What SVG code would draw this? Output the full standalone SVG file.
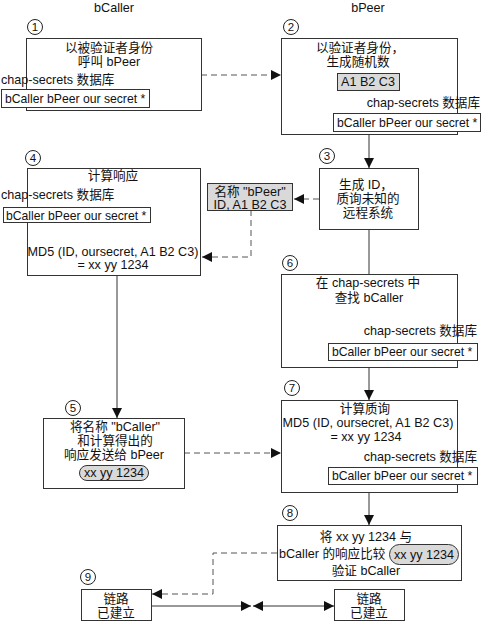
<svg xmlns="http://www.w3.org/2000/svg" width="483" height="621" viewBox="0 0 483 621">
<style>
text{font-family:"Liberation Sans","Noto Sans CJK SC",sans-serif;font-size:12.6px;fill:#111}
.c{text-anchor:middle}
.r{text-anchor:end}
.n{font-size:11.5px}
.s{font-size:12.2px}
.box{fill:#fff;stroke:#333;stroke-width:1}
.gray{fill:#d9d9d9;stroke:#333;stroke-width:1}
.num{fill:#fff;stroke:#222;stroke-width:1}
.ln{fill:none;stroke:#333;stroke-width:1}
.dash{fill:none;stroke:#555;stroke-width:1;stroke-dasharray:6,4}
</style>
<defs>
<marker id="ah" markerUnits="userSpaceOnUse" markerWidth="10" markerHeight="10" refX="8" refY="4" orient="auto-start-reverse" viewBox="0 0 8 8">
<path d="M0,0 L8,4 L0,8 z" fill="#111"/>
</marker>
</defs>
<text class="c" x="114" y="12">bCaller</text>
<text class="c" x="368" y="12">bPeer</text>

<g id="connectors">
<line class="dash" x1="201" y1="75" x2="281" y2="75" marker-end="url(#ah)"/>
<line class="ln" x1="369" y1="134" x2="369" y2="168" marker-end="url(#ah)"/>
<line class="dash" x1="319" y1="199" x2="294" y2="199" marker-end="url(#ah)"/>
<polyline class="dash" points="251,210 251,257 202,257" marker-end="url(#ah)"/>
<line class="dash" x1="117" y1="222" x2="117" y2="242" marker-end="url(#ah)"/>
<line class="ln" x1="117" y1="275" x2="117" y2="418" marker-end="url(#ah)"/>
<line class="dash" x1="184" y1="453" x2="281" y2="453" marker-end="url(#ah)"/>
<line class="ln" x1="369" y1="229" x2="369" y2="274"/>
<line class="ln" x1="369" y1="367" x2="369" y2="400" marker-end="url(#ah)"/>
<line class="ln" x1="369" y1="492" x2="369" y2="525" marker-end="url(#ah)"/>
<polyline class="dash" points="277,553 213,553 213,594 152,594" marker-end="url(#ah)"/>
<line class="ln" x1="151" y1="606" x2="251" y2="606" marker-end="url(#ah)"/>
<line class="ln" x1="253" y1="606" x2="334" y2="606" marker-start="url(#ah)" marker-end="url(#ah)"/>
</g>

<g id="node1">
<circle class="num" cx="35" cy="27" r="7.5"/><text class="c n" x="35" y="31">1</text>
<rect class="box" x="26.5" y="38.5" width="175" height="72"/>
<text class="c" x="109" y="52">以被验证者身份</text>
<text class="c" x="109" y="66">呼叫 bPeer</text>
<text x="1" y="84">chap-secrets 数据库</text>
<rect class="box" x="1.5" y="89.5" width="148" height="18"/>
<text class="s" x="5" y="103">bCaller bPeer our secret *</text>
</g>

<g id="node2">
<circle class="num" cx="291" cy="27" r="7.5"/><text class="c n" x="291" y="31">2</text>
<rect class="box" x="281.5" y="38.5" width="176" height="96"/>
<text class="c" x="360" y="52">以验证者身份，</text>
<text class="c" x="358" y="66">生成随机数</text>
<rect class="gray" x="337.5" y="73.5" width="62" height="17"/>
<text class="c" x="368" y="86">A1 B2 C3</text>
<text class="r" x="480" y="107">chap-secrets 数据库</text>
<rect class="box" x="333.5" y="113.5" width="147" height="18"/>
<text class="s" x="337" y="127">bCaller bPeer our secret *</text>
</g>

<g id="node3">
<circle class="num" cx="327" cy="156" r="7.5"/><text class="c n" x="327" y="160">3</text>
<rect class="box" x="319.5" y="168.5" width="99" height="61"/>
<text class="c" x="366" y="189">生成 ID，</text>
<text class="c" x="368" y="203">质询未知的</text>
<text class="c" x="368" y="217">远程系统</text>
</g>

<g id="challenge">
<rect class="gray" x="207.5" y="183.5" width="85" height="27"/>
<text class="c" x="250" y="196">名称 "bPeer"</text>
<text class="c" x="250" y="209">ID, A1 B2 C3</text>
</g>

<g id="node4">
<circle class="num" cx="33" cy="158" r="7.5"/><text class="c n" x="33" y="162">4</text>
<rect class="box" x="27.5" y="168.5" width="173" height="107"/>
<text class="c" x="113" y="180">计算响应</text>
<text x="1" y="199">chap-secrets 数据库</text>
<rect class="box" x="3.5" y="207.5" width="147" height="15"/>
<text class="s" x="6" y="220">bCaller bPeer our secret *</text>
<text class="c" x="113" y="256">MD5 (ID, oursecret, A1 B2 C3)</text>
<text class="c" x="113" y="269">= xx yy 1234</text>
</g>

<g id="node5">
<circle class="num" cx="73" cy="408" r="7.5"/><text class="c n" x="73" y="412">5</text>
<rect class="box" x="43.5" y="418.5" width="141" height="70"/>
<text class="c" x="115" y="431">将名称 "bCaller"</text>
<text class="c" x="115" y="445">和计算得出的</text>
<text class="c" x="114" y="459">响应发送给 bPeer</text>
<rect class="gray" x="79.5" y="465.5" width="69" height="15" rx="7.5"/>
<text class="c" x="114" y="477">xx yy 1234</text>
</g>

<g id="node6">
<circle class="num" cx="290" cy="263" r="7.5"/><text class="c n" x="290" y="267">6</text>
<rect class="box" x="281.5" y="274.5" width="176" height="93"/>
<text class="c" x="368" y="287">在 chap-secrets 中</text>
<text class="c" x="369" y="302">查找 bCaller</text>
<text class="r" x="477" y="335">chap-secrets 数据库</text>
<rect class="box" x="328.5" y="343.5" width="149" height="17"/>
<text class="s" x="332" y="356">bCaller bPeer our secret *</text>
</g>

<g id="node7">
<circle class="num" cx="292" cy="388" r="7.5"/><text class="c n" x="292" y="392">7</text>
<rect class="box" x="281.5" y="400.5" width="176" height="92"/>
<text class="c" x="365" y="413">计算质询</text>
<text class="c" x="368" y="427">MD5 (ID, oursecret, A1 B2 C3)</text>
<text class="c" x="366" y="441">= xx yy 1234</text>
<text class="r" x="477" y="461">chap-secrets 数据库</text>
<rect class="box" x="328.5" y="467.5" width="149" height="17"/>
<text class="s" x="332" y="480">bCaller bPeer our secret *</text>
</g>

<g id="node8">
<circle class="num" cx="290" cy="513" r="7.5"/><text class="c n" x="290" y="517">8</text>
<rect class="box" x="277.5" y="525.5" width="184" height="55"/>
<text class="c" x="366" y="541">将 xx yy 1234 与</text>
<text x="279" y="558">bCaller 的响应比较</text>
<rect class="gray" x="389.5" y="544.5" width="69" height="20" rx="10"/>
<text class="c" x="424" y="559">xx yy 1234</text>
<text class="c" x="366" y="575">验证 bCaller</text>
</g>

<g id="node9">
<circle class="num" cx="88" cy="577" r="7.5"/><text class="c n" x="88" y="581">9</text>
<rect class="box" x="81.5" y="589.5" width="70" height="31"/>
<text class="c" x="116" y="603">链路</text>
<text class="c" x="116" y="617">已建立</text>
</g>

<g id="node10">
<rect class="box" x="334.5" y="589.5" width="70" height="31"/>
<text class="c" x="369" y="603">链路</text>
<text class="c" x="369" y="617">已建立</text>
</g>
</svg>
